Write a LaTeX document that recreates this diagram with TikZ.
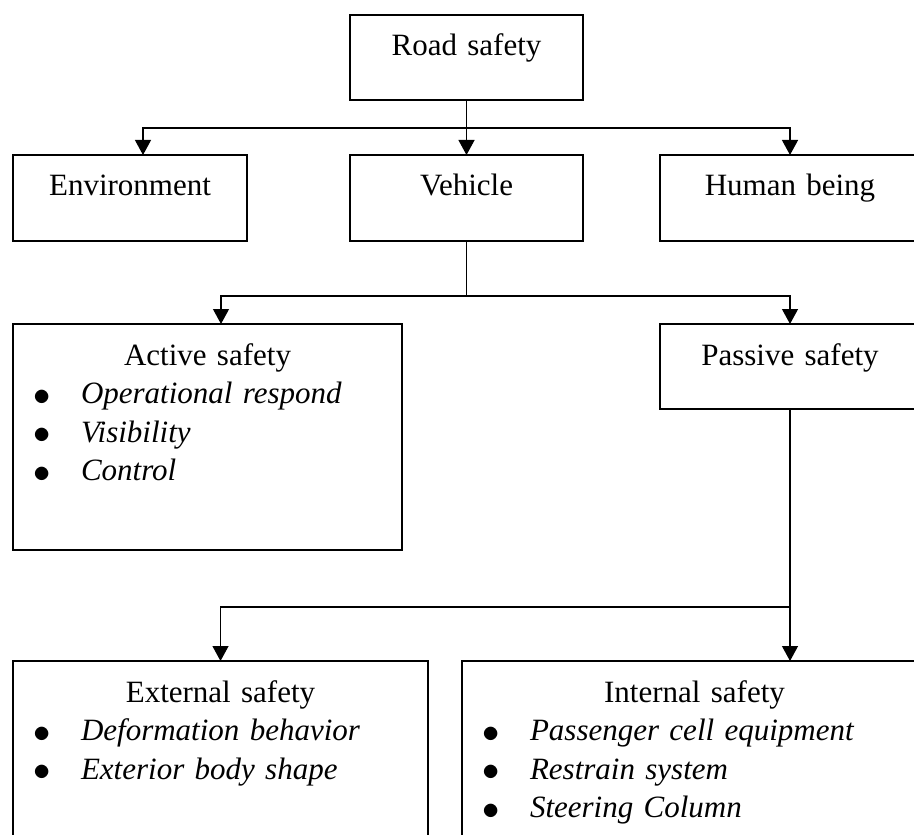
\documentclass[tikz,border=0pt]{standalone}
\usepackage{fontspec}
\setmainfont{Liberation Serif}
\usetikzlibrary{arrows.meta}

\newcommand\listhead[1]{\hfill#1\hfill\null}
\newcommand\listitem[1]{\hspace*{10pt}\makebox[24pt][l]{\raisebox{-0.8pt}{\scalebox{1.2}{$\bullet$}}}\textit{#1}}

\tikzset{
    box/.style={draw, line width=0.8pt, inner sep=0pt, outer sep=0pt, anchor=north west,
        text height=20.5pt, align=center},
    listbox/.style={box, align=left},
    link/.style={line width=0.6pt, -{Triangle[length=7.5pt,width=8pt]}},
    line/.style={line width=0.6pt}
}

\begin{document}
\begin{tikzpicture}[x=0.5pt, y=-0.5pt, font=\fontsize{15.5}{19.3}\selectfont]
    \useasboundingbox (0,0) rectangle (914,834);

    % first level
    \node[box, text width=116.5pt, text depth=22pt] (road) at (350,15) {Road safety};
    \node[box, text width=117pt, text depth=22.5pt] (env) at (13,155) {Environment};
    \node[box, text width=116.5pt, text depth=22.5pt] (veh) at (350,155) {Vehicle};
    \node[box, text width=130pt, text depth=22.5pt] (human) at (660,155) {Human being};

    \coordinate (split1) at (466.5,128);
    \coordinate (envin) at (143,155);
    \draw[link] (road.south) -- (veh.north);
    \draw[link] (split1) -| (envin);
    \draw[link] (split1) -| (human.north);

    % vehicle
    \node[listbox, text width=194.5pt, text depth=92.5pt] (active) at (13,324)
        {\listhead{Active safety}\\ \listitem{Operational respond}\\ \listitem{Visibility}\\ \listitem{Control}};
    \node[box, text width=130pt, text depth=22pt] (passive) at (660,324) {Passive safety};

    \coordinate (split2) at (466.5,296);
    \coordinate (activein) at (221,324);
    \draw[line] (veh.south) -- (split2);
    \draw[link] (split2) -| (activein);
    \draw[link] (split2) -| (passive.north);

    % passive safety
    \node[listbox, text width=207.5pt, text depth=100pt] (external) at (13,661)
        {\listhead{External safety}\\ \listitem{Deformation behavior}\\ \listitem{Exterior body shape}};
    \node[listbox, text width=232.5pt, text depth=100pt] (internal) at (462,661)
        {\listhead{Internal safety}\\ \listitem{Passenger cell equipment}\\ \listitem{Restrain system}\\ \listitem{Steering Column}};

    \coordinate (split3) at (790,607);
    \coordinate (internalin) at (790,661);
    \draw[link] (passive.south) -- (internalin);
    \draw[link] (split3) -| (external.north);
\end{tikzpicture}
\end{document}
